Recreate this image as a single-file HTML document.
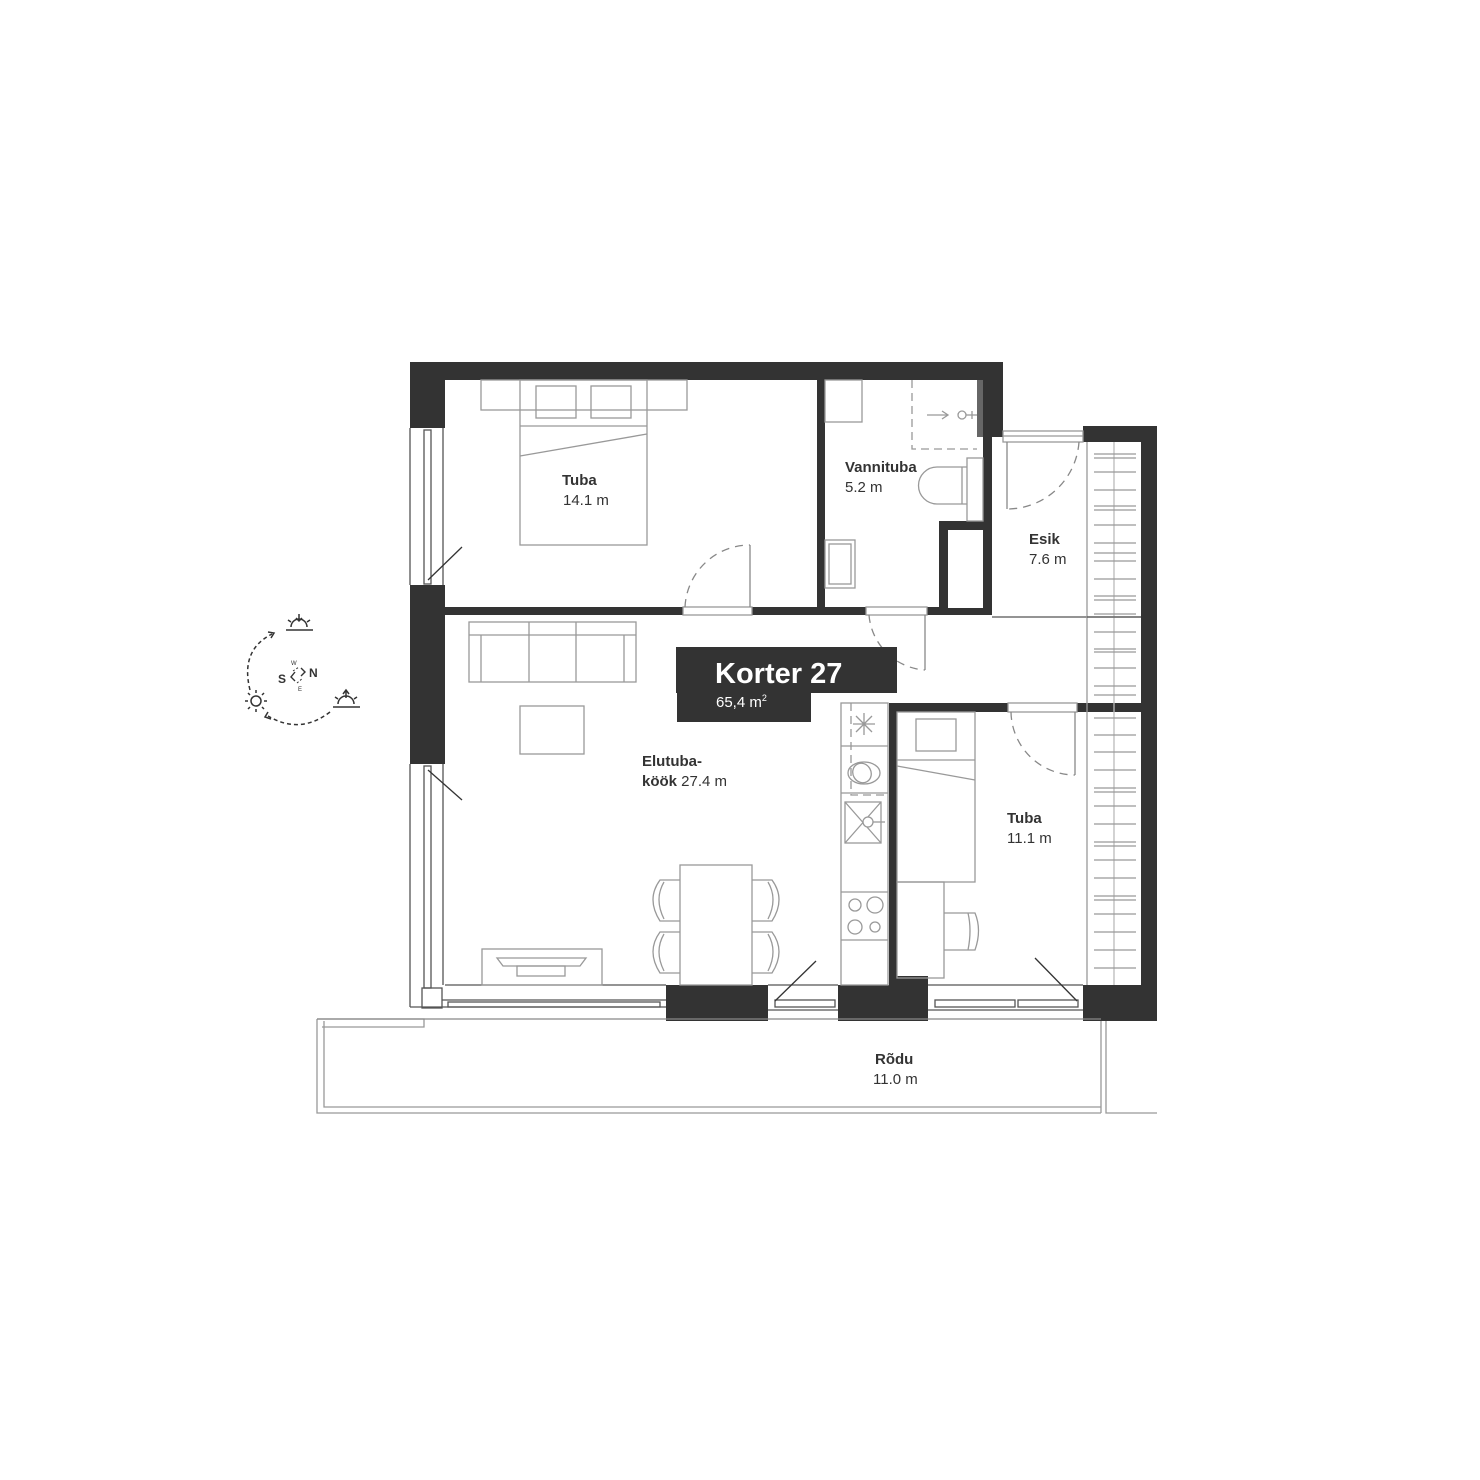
<!DOCTYPE html>
<html><head><meta charset="utf-8"><style>
html,body{margin:0;padding:0;background:#fff}
svg{display:block}
text{font-family:"Liberation Sans",Arial,sans-serif;fill:#333}
</style></head><body>
<svg width="1480" height="1480" viewBox="0 0 1480 1480" xmlns="http://www.w3.org/2000/svg">
<rect width="1480" height="1480" fill="#fff"/>
<g fill="#333">
<!-- top wall -->
<rect x="410" y="362" width="593" height="18"/>
<rect x="410" y="362" width="35" height="66"/>
<rect x="983" y="362" width="20" height="75"/>
<!-- right block -->
<rect x="1083" y="426" width="74" height="16"/>
<rect x="1141" y="426" width="16" height="595"/>
<!-- left wall blocks -->
<rect x="410" y="585" width="35" height="179"/>
<!-- bedroom/bath wall -->
<rect x="817" y="380" width="8" height="235"/>
<!-- bath/esik wall -->
<rect x="983" y="437" width="9" height="178"/>
<!-- closet -->
<rect x="939" y="521" width="53" height="94"/>
<!-- horizontal wall -->
<rect x="445" y="607" width="238" height="8"/>
<rect x="752" y="607" width="114" height="8"/>
<rect x="927" y="607" width="65" height="8"/>
<!-- kitchen/bedroom wall -->
<rect x="889" y="703" width="8" height="282"/>
<rect x="889" y="703" width="119" height="9"/>
<rect x="1077" y="703" width="64" height="9"/>
<!-- bottom blocks -->
<rect x="666" y="985" width="102" height="36"/>
<rect x="838" y="985" width="90" height="36"/>
<rect x="1083" y="985" width="74" height="36"/>
<rect x="889" y="976" width="39" height="10"/>
</g>
<rect x="948" y="530" width="35" height="78" fill="#fff"/>
<!-- bathroom radiator -->
<rect x="977" y="380" width="6" height="57" fill="#666"/>
<g fill="none" stroke="#999" stroke-width="1.3">
<!-- windows -->
<rect x="1003" y="431" width="80" height="11"/>
<line x1="1003" y1="436" x2="1083" y2="436"/>
<line x1="410" y1="428" x2="410" y2="585" stroke="#555"/>
<line x1="443" y1="428" x2="443" y2="585" stroke="#555"/>
<rect x="424" y="430" width="7" height="154" stroke="#555"/>
<line x1="410" y1="764" x2="410" y2="1007" stroke="#555"/>
<rect x="424" y="766" width="7" height="222" stroke="#555"/>
<line x1="443" y1="764" x2="443" y2="985" stroke="#555"/>
<rect x="422" y="988" width="20" height="20" stroke="#555"/>
<line x1="410" y1="1007" x2="666" y2="1007" stroke="#555"/>
<line x1="442" y1="1000" x2="666" y2="1000" stroke="#555"/>
<rect x="448" y="1002" width="212" height="5" stroke="#555"/>
<rect x="775" y="1000" width="60" height="7" stroke="#555"/>
<line x1="768" y1="1010" x2="838" y2="1010" stroke="#555"/>
<rect x="935" y="1000" width="80" height="7" stroke="#555"/>
<rect x="1018" y="1000" width="60" height="7" stroke="#555"/>
<line x1="928" y1="1010" x2="1083" y2="1010" stroke="#555"/>
<!-- door openings -->
<rect x="683" y="607" width="69" height="8"/>
<rect x="866" y="607" width="61" height="8"/>
<rect x="1008" y="703" width="69" height="9"/>
<!-- floor outlines -->
<line x1="445" y1="985" x2="666" y2="985" stroke="#555"/>
<line x1="768" y1="985" x2="838" y2="985" stroke="#555"/>
<line x1="928" y1="985" x2="1083" y2="985" stroke="#555"/>
<line x1="992" y1="617" x2="1141" y2="617" stroke="#555"/>
<line x1="1087" y1="442" x2="1087" y2="985" stroke="#999"/>
<line x1="1114" y1="442" x2="1114" y2="985" stroke="#bbb"/>
<line x1="1087" y1="617" x2="1141" y2="617" stroke="#555"/>
</g>
<!-- wardrobe hangers -->
<g stroke="#999" stroke-width="1.3">
<line x1="1094" y1="454" x2="1136" y2="454"/><line x1="1094" y1="458" x2="1136" y2="458"/>
<line x1="1094" y1="472" x2="1136" y2="472"/><line x1="1094" y1="490" x2="1136" y2="490"/>
<line x1="1094" y1="506" x2="1136" y2="506"/><line x1="1094" y1="510" x2="1136" y2="510"/>
<line x1="1094" y1="525" x2="1136" y2="525"/><line x1="1094" y1="543" x2="1136" y2="543"/>
<line x1="1094" y1="553" x2="1136" y2="553"/><line x1="1094" y1="561" x2="1136" y2="561"/>
<line x1="1094" y1="579" x2="1136" y2="579"/><line x1="1094" y1="596" x2="1136" y2="596"/>
<line x1="1094" y1="600" x2="1136" y2="600"/><line x1="1094" y1="614" x2="1136" y2="614"/>
<line x1="1094" y1="632" x2="1136" y2="632"/><line x1="1094" y1="649" x2="1136" y2="649"/>
<line x1="1094" y1="652" x2="1136" y2="652"/><line x1="1094" y1="668" x2="1136" y2="668"/>
<line x1="1094" y1="686" x2="1136" y2="686"/><line x1="1094" y1="695" x2="1136" y2="695"/>
<line x1="1094" y1="718" x2="1136" y2="718"/><line x1="1094" y1="735" x2="1136" y2="735"/>
<line x1="1094" y1="752" x2="1136" y2="752"/><line x1="1094" y1="770" x2="1136" y2="770"/>
<line x1="1094" y1="788" x2="1136" y2="788"/><line x1="1094" y1="792" x2="1136" y2="792"/>
<line x1="1094" y1="806" x2="1136" y2="806"/><line x1="1094" y1="824" x2="1136" y2="824"/>
<line x1="1094" y1="842" x2="1136" y2="842"/><line x1="1094" y1="846" x2="1136" y2="846"/>
<line x1="1094" y1="860" x2="1136" y2="860"/><line x1="1094" y1="878" x2="1136" y2="878"/>
<line x1="1094" y1="896" x2="1136" y2="896"/><line x1="1094" y1="900" x2="1136" y2="900"/>
<line x1="1094" y1="914" x2="1136" y2="914"/><line x1="1094" y1="932" x2="1136" y2="932"/>
<line x1="1094" y1="950" x2="1136" y2="950"/><line x1="1094" y1="968" x2="1136" y2="968"/>
</g>
<!-- furniture -->
<g fill="none" stroke="#999" stroke-width="1.3">
<!-- bedroom -->
<rect x="481" y="380" width="206" height="30"/>
<rect x="520" y="380" width="127" height="165"/>
<line x1="520" y1="426" x2="647" y2="426"/>
<line x1="520" y1="456" x2="647" y2="434"/>
<rect x="536" y="386" width="40" height="32"/>
<rect x="591" y="386" width="40" height="32"/>
<!-- bathroom -->
<rect x="825" y="380" width="37" height="42"/>
<path d="M912 380 V449 H977" stroke-dasharray="8 5"/>
<path d="M927 415 H948 M942 411 L948 415 L942 419"/>
<circle cx="962" cy="415" r="4"/>
<line x1="966" y1="415" x2="977" y2="415"/><line x1="972" y1="411" x2="972" y2="419"/>
<rect x="967" y="458" width="16" height="63"/>
<path d="M967 467 H937 A13 13 0 0 0 937 504 H967"/>
<line x1="962" y1="467" x2="962" y2="504"/>
<rect x="825" y="540" width="30" height="48"/>
<rect x="829" y="544" width="22" height="40"/>
<!-- sofa -->
<rect x="469" y="622" width="167" height="60"/>
<line x1="469" y1="635" x2="636" y2="635"/>
<line x1="481" y1="635" x2="481" y2="682"/><line x1="624" y1="635" x2="624" y2="682"/>
<line x1="529" y1="622" x2="529" y2="682"/><line x1="576" y1="622" x2="576" y2="682"/>
<rect x="520" y="706" width="64" height="48"/>
<!-- TV -->
<rect x="482" y="949" width="120" height="36"/>
<path d="M497 958 H586 L580 966 H503 Z"/>
<rect x="517" y="966" width="48" height="10"/>
<!-- table & chairs -->
<rect x="680" y="865" width="72" height="120"/>
<path d="M680 880 H660 Q646 899 660 921 H680 M664 882 Q654 899 664 919"/>
<path d="M680 932 H660 Q646 951 660 973 H680 M664 934 Q654 951 664 971"/>
<path d="M752 880 H772 Q786 899 772 921 H752 M768 882 Q778 899 768 919"/>
<path d="M752 932 H772 Q786 951 772 973 H752 M768 934 Q778 951 768 971"/>
<!-- kitchen -->
<rect x="841" y="703" width="47" height="282"/>
<line x1="841" y1="746" x2="888" y2="746"/>
<line x1="841" y1="793" x2="888" y2="793"/>
<line x1="841" y1="892" x2="888" y2="892"/>
<line x1="841" y1="940" x2="888" y2="940"/>
<path d="M851 703 V795 H888" stroke-dasharray="8 5"/>
<path d="M864 713 V735 M853 724 H875 M856 716 L872 732 M872 716 L856 732"/>
<ellipse cx="864" cy="773" rx="16" ry="11"/>
<ellipse cx="862" cy="773" rx="9" ry="10" transform="rotate(-30 862 773)"/>
<rect x="845" y="802" width="36" height="41"/>
<path d="M845 802 L881 843 M881 802 L845 843"/>
<circle cx="868" cy="822" r="5" fill="#fff"/>
<line x1="873" y1="822" x2="885" y2="822"/>
<circle cx="855" cy="905" r="6"/><circle cx="875" cy="905" r="8"/>
<circle cx="855" cy="927" r="7"/><circle cx="875" cy="927" r="5"/>
<!-- small bedroom -->
<rect x="897" y="712" width="78" height="170"/>
<line x1="897" y1="760" x2="975" y2="760"/>
<line x1="897" y1="766" x2="975" y2="780"/>
<rect x="916" y="719" width="40" height="32"/>
<rect x="897" y="882" width="47" height="96"/>
<path d="M944 913 H975 Q982 930 975 950 H944 M968 913 Q972 930 968 950"/>
<!-- balcony -->
<path d="M317 1019 V1113 H1101"/>
<path d="M324 1021 V1107 H1101"/>
<path d="M317 1019 H424 V1027 H322"/>
<line x1="317" y1="1019" x2="1101" y2="1019" stroke="#888"/>
<path d="M1101 1021 V1113 M1106 1021 V1113 H1157"/>
</g>
<!-- doors dashed arcs -->
<g fill="none" stroke="#888" stroke-width="1.3">
<path d="M685 607 A65 65 0 0 1 750 545" stroke-dasharray="8 6"/>
<line x1="750" y1="545" x2="750" y2="607"/>
<path d="M869 615 A60 60 0 0 0 925 670" stroke-dasharray="8 6"/>
<line x1="925" y1="615" x2="925" y2="670"/>
<path d="M1079 442 A72 72 0 0 1 1007 509" stroke-dasharray="8 6"/>
<line x1="1007" y1="442" x2="1007" y2="509"/>
<path d="M1011 712 A64 64 0 0 0 1075 775" stroke-dasharray="8 6"/>
<line x1="1075" y1="712" x2="1075" y2="775"/>
<line x1="428" y1="580" x2="462" y2="547" stroke="#333"/>
<line x1="428" y1="770" x2="462" y2="800" stroke="#333"/>
<line x1="775" y1="1001" x2="816" y2="961" stroke="#333"/>
<line x1="1035" y1="958" x2="1077" y2="1001" stroke="#333"/>
</g>
<!-- labels -->
<g font-size="15">
<text x="562" y="485" font-weight="bold">Tuba</text>
<text x="563" y="505">14.1 m</text>
<text x="845" y="472" font-weight="bold">Vannituba</text>
<text x="845" y="492">5.2 m</text>
<text x="1029" y="544" font-weight="bold">Esik</text>
<text x="1029" y="564">7.6 m</text>
<text x="642" y="766" font-weight="bold">Elutuba-</text>
<text x="642" y="786"><tspan font-weight="bold">köök</tspan> 27.4 m</text>
<text x="1007" y="823" font-weight="bold">Tuba</text>
<text x="1007" y="843">11.1 m</text>
<text x="875" y="1064" font-weight="bold">Rõdu</text>
<text x="873" y="1084">11.0 m</text>
</g>
<!-- Korter label -->
<rect x="676" y="647" width="221" height="46" fill="#333"/>
<rect x="677" y="690" width="134" height="32" fill="#333"/>
<text x="715" y="683" font-size="29" font-weight="bold" style="fill:#fff">Korter  27</text>
<text x="716" y="707" font-size="15" style="fill:#fff">65,4 m<tspan font-size="9" dy="-6">2</tspan></text>
<!-- compass -->
<g fill="none" stroke="#333" stroke-width="1.5">
<path d="M250 690 Q240 650 272 634" stroke-dasharray="4 3"/>
<path d="M268 632 L274 633 L271 638"/>
<path d="M330 712 Q300 735 268 716" stroke-dasharray="4 3"/>
<path d="M268 712 L265 717 L271 719"/>
<circle cx="256" cy="701" r="5"/>
<path d="M256 690 V693 M256 709 V712 M245 701 H248 M264 701 H267 M248 693 L250 695 M262 707 L264 709 M248 709 L250 707 M262 695 L264 693"/>
<path d="M286 630 H313 M291 627 A8 8 0 0 1 307 627 M299 614 V621 M296 618 L299 621 L302 618 M288 620 L291 622 M310 620 L307 622"/>
<path d="M333 707 H360 M338 704 A8 8 0 0 1 354 704 M346 690 V698 M343 694 L346 690 L349 694 M335 697 L338 699 M357 697 L354 699"/>
<path d="M295 672 L291 677 L295 681 M301 668 L305 672 L301 676" stroke-width="1.4"/>
<path d="M293 671 L299 667 M297 683 L303 678" stroke-width="1" stroke-dasharray="2 2"/>
</g>
<text x="278" y="683" font-size="12" font-weight="bold">S</text>
<text x="309" y="677" font-size="12" font-weight="bold">N</text>
<text x="291" y="665" font-size="6">W</text>
<text x="298" y="691" font-size="6">E</text>
</svg>
</body></html>
